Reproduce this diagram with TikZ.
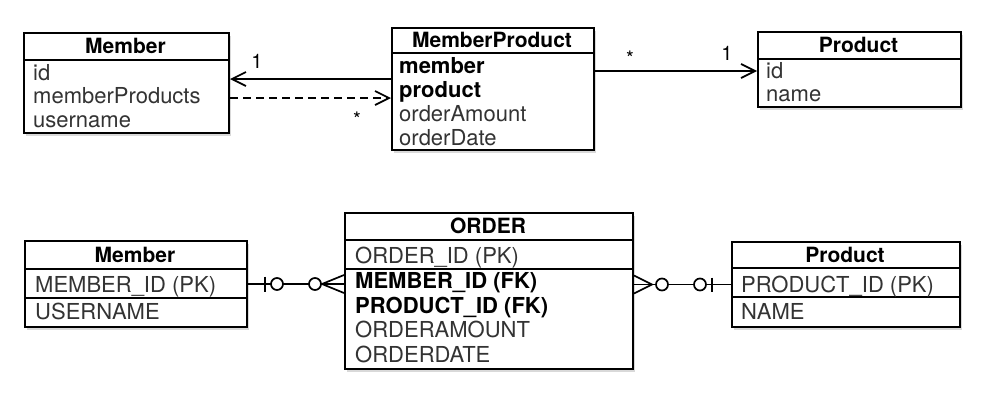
\documentclass[tikz,border=0pt]{standalone}
\usepackage{fontspec}
\setmainfont{TeX Gyre Heros}
\usetikzlibrary{arrows.meta,shadows}
\begin{document}
\begin{tikzpicture}[x=1pt,y=-1pt,
  box/.style={draw, line width=2pt, fill=white, rectangle, inner sep=0pt, anchor=north west,
    drop shadow={shadow xshift=1.5pt, shadow yshift=-2.5pt, opacity=0.3}},
  div/.style={line width=1.6pt},
  hdr/.style={anchor=base, inner sep=0pt, font=\fontsize{21}{24}\selectfont\bfseries},
  row/.style={anchor=base west, inner sep=0pt, text=black!80, font=\fontsize{22}{24}\selectfont},
  brow/.style={row, text=black, font=\fontsize{22}{24}\selectfont\bfseries},
  lbl/.style={inner sep=0pt, font=\fontsize{20}{22}\selectfont},
  conn/.style={line width=1.7pt},
  uarr/.style={conn, -{Straight Barb[length=14pt,width=14pt,line width=1.7pt]}},
  dasharr/.style={uarr, dash pattern=on 8pt off 5pt}
]
\useasboundingbox (0,0) rectangle (1000,405);

% ---------- top: class diagram ----------
\node[box, minimum width=205pt, minimum height=100pt] (m1) at (23,32) {};
\draw[div] ([yshift=-28pt]m1.north west) -- ([yshift=-28pt]m1.north east);
\node[hdr] (m1h) at (125.5,53) {Member};
\node[row] (m1a) at (33,80) {id};
\node[row] (m1b) at (33,103.5) {memberProducts};
\node[row] (m1c) at (33,127) {username};

\node[box, minimum width=202pt, minimum height=122pt] (mp) at (391,27) {};
\draw[div] ([yshift=-26pt]mp.north west) -- ([yshift=-26pt]mp.north east);
\node[hdr] (mph) at (492,47) {MemberProduct};
\node[brow] (mpa) at (399,73) {member};
\node[brow] (mpb) at (399,97) {product};
\node[row] (mpc) at (399,121) {orderAmount};
\node[row] (mpd) at (399,145) {orderDate};

\node[box, minimum width=203pt, minimum height=75pt] (p1) at (757,31) {};
\draw[div] ([yshift=-28pt]p1.north west) -- ([yshift=-28pt]p1.north east);
\node[hdr] (p1h) at (858.5,52) {Product};
\node[row] (p1a) at (766,78) {id};
\node[row] (p1b) at (766,101) {name};

\draw[uarr] ([yshift=10pt]mp.west) -- ([yshift=10pt]mp.west -| m1.east);
\draw[dasharr] ([yshift=-15pt]m1.east) -- ([yshift=-15pt]m1.east -| mp.west);
\draw[uarr] ([yshift=18pt]mp.east) -- ([yshift=18pt]mp.east -| p1.west);
\node[lbl, anchor=base] (l1) at (257,68) {1};
\node[lbl] (l2) at (357,119) {*};
\node[lbl] (l3) at (630,58) {*};
\node[lbl, anchor=base] (l4) at (727,60) {1};

% ---------- bottom: ER diagram ----------
\node[box, minimum width=222pt, minimum height=86pt] (m2) at (24,240) {};
\draw[div] ([yshift=-29pt]m2.north west) -- ([yshift=-29pt]m2.north east);
\draw[div] ([yshift=-58pt]m2.north west) -- ([yshift=-58pt]m2.north east);
\node[hdr] (m2h) at (135,262) {Member};
\node[row] (m2a) at (35,292) {MEMBER\_ID (PK)};
\node[row] (m2b) at (35,319) {USERNAME};

\node[box, minimum width=288pt, minimum height=156pt] (o) at (344,212) {};
\draw[div] ([yshift=-28pt]o.north west) -- ([yshift=-28pt]o.north east);
\draw[div] ([yshift=-57pt]o.north west) -- ([yshift=-57pt]o.north east);
\node[hdr] (oh) at (488,233) {ORDER};
\node[row] (oa) at (355,263) {ORDER\_ID (PK)};
\node[brow] (ob) at (355,288) {MEMBER\_ID (FK)};
\node[brow] (oc) at (355,313) {PRODUCT\_ID (FK)};
\node[row] (od) at (355,337.5) {ORDERAMOUNT};
\node[row] (oe) at (355,362) {ORDERDATE};

\node[box, minimum width=228pt, minimum height=85pt] (p2) at (731,241) {};
\draw[div] ([yshift=-27pt]p2.north west) -- ([yshift=-27pt]p2.north east);
\draw[div] ([yshift=-56pt]p2.north west) -- ([yshift=-56pt]p2.north east);
\node[hdr] (p2h) at (845,262) {Product};
\node[row] (p2a) at (741,292) {PRODUCT\_ID (PK)};
\node[row] (p2b) at (741,319) {NAME};

% Member -- ORDER
\coordinate (L) at (m2.east -| o.west);
\draw[conn] (m2.east) -- (L);
\draw[conn] ([xshift=17pt,yshift=7.5pt]m2.east) -- ([xshift=17pt,yshift=-7.5pt]m2.east);
\draw[conn, fill=white] ([xshift=29pt]m2.east) circle (6pt);
\draw[conn, fill=white] ([xshift=-29pt]L) circle (6pt);
\draw[conn] ([yshift=9pt]L) -- ([xshift=-22pt]L) -- ([yshift=-9pt]L);

% ORDER -- Product
\coordinate (R) at (p2.west -| o.east);
\draw[conn] (R) -- (p2.west);
\draw[conn] ([yshift=9pt]R) -- ([xshift=18pt]R) -- ([yshift=-9pt]R);
\draw[conn, fill=white] ([xshift=28pt]R) circle (6pt);
\draw[conn, fill=white] ([xshift=-31pt]p2.west) circle (6pt);
\draw[conn] ([xshift=-19pt,yshift=7pt]p2.west) -- ([xshift=-19pt,yshift=-7pt]p2.west);
\end{tikzpicture}
\end{document}
